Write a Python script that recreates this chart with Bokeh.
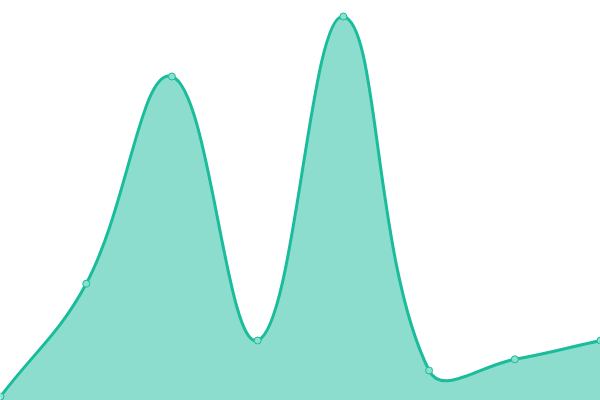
import numpy as np
from bokeh.plotting import figure
from bokeh.models import Range1d
from bokeh.embed import file_html
from bokeh.resources import INLINE

# Data
categories = [0, 1, 2, 3, 4, 5, 6, 7]
values = [1, 29.2, 81, 15, 96, 7.5, 10.3, 15]

W, H = 600, 400
X0, X1 = 0, 7
Y0, Y1 = 0, 100
TENSION = 0.4

p = figure(width=W, height=H, output_backend="svg", toolbar_location=None,
           x_range=Range1d(X0, X1), y_range=Range1d(Y0, Y1),
           min_border=0, min_border_left=0, min_border_right=0,
           min_border_top=0, min_border_bottom=0)
p.axis.visible = False
p.grid.visible = False
p.outline_line_color = None
p.background_fill_color = "white"
p.border_fill_color = "white"

xs = np.array(categories, dtype=float)
ys = np.array(values, dtype=float)
# pixel-space scale factors for spline (Chart.js-like cardinal spline)
sx = W / (X1 - X0)
sy = H / (Y1 - Y0)
px = xs * sx
py = ys * sy
n = len(xs)
cp_prev = np.zeros((n, 2))
cp_next = np.zeros((n, 2))
for i in range(n):
    prv = (px[i - 1], py[i - 1]) if i > 0 else (px[i], py[i])
    nxt = (px[i + 1], py[i + 1]) if i < n - 1 else (px[i], py[i])
    d01 = np.hypot(px[i] - prv[0], py[i] - prv[1])
    d12 = np.hypot(nxt[0] - px[i], nxt[1] - py[i])
    tot = d01 + d12
    s01 = d01 / tot if tot else 0
    s12 = d12 / tot if tot else 0
    fa = TENSION * s01
    fb = TENSION * s12
    cp_prev[i] = (px[i] - fa * (nxt[0] - prv[0]), py[i] - fa * (nxt[1] - prv[1]))
    cp_next[i] = (px[i] + fb * (nxt[0] - prv[0]), py[i] + fb * (nxt[1] - prv[1]))
# clamp to chart area
cp_prev[:, 0] = np.clip(cp_prev[:, 0], 0, W); cp_prev[:, 1] = np.clip(cp_prev[:, 1], 0, H)
cp_next[:, 0] = np.clip(cp_next[:, 0], 0, W); cp_next[:, 1] = np.clip(cp_next[:, 1], 0, H)

bx0 = xs[:-1]; by0 = ys[:-1]; bx1 = xs[1:]; by1 = ys[1:]
cx0 = cp_next[:-1, 0] / sx; cy0 = cp_next[:-1, 1] / sy
cx1 = cp_prev[1:, 0] / sx; cy1 = cp_prev[1:, 1] / sy

# sampled fill following the same bezier segments
fx, fy = [], []
t = np.linspace(0, 1, 60)
for k in range(n - 1):
    a = (1 - t) ** 3; b = 3 * (1 - t) ** 2 * t; c = 3 * (1 - t) * t ** 2; d = t ** 3
    fx.extend(a * bx0[k] + b * cx0[k] + c * cx1[k] + d * bx1[k])
    fy.extend(a * by0[k] + b * cy0[k] + c * cy1[k] + d * by1[k])

p.varea(x=fx, y1=0, y2=fy, fill_color="#1abc9c", fill_alpha=0.5)
p.bezier(x0=bx0, y0=by0, x1=bx1, y1=by1, cx0=cx0, cy0=cy0, cx1=cx1, cy1=cy1,
         line_color="#1abc9c", line_width=3)
p.scatter(xs, ys, size=7, fill_color="#8ae0ce", line_color="#1abc9c", line_width=1)

open("out.html", "w").write(file_html(p, INLINE))
